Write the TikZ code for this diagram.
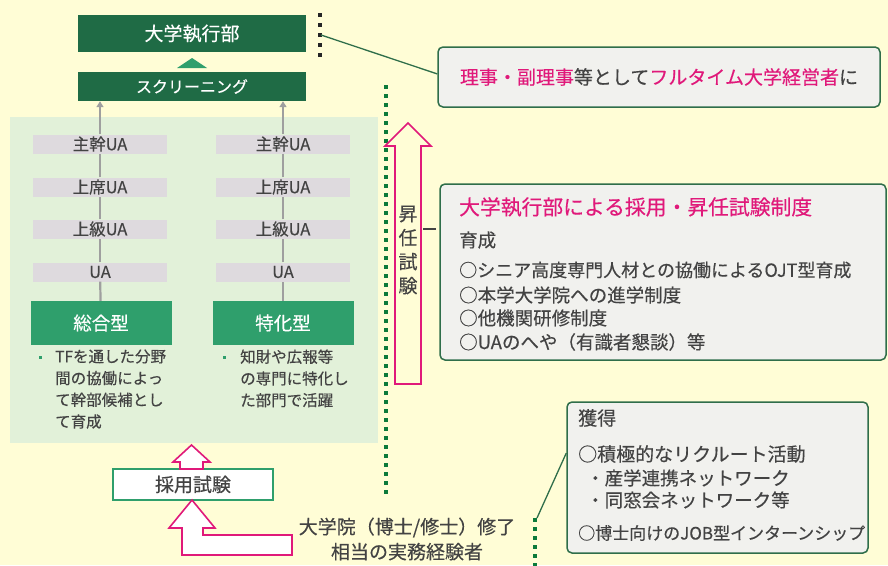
\documentclass[tikz,border=0pt]{standalone}
\usepackage{fontspec}
\setmainfont{Noto Sans CJK JP}[FakeBold=0.35]
\usetikzlibrary{arrows.meta,calc}
\definecolor{bgyellow}{HTML}{FFFDD6}
\definecolor{panelgreen}{HTML}{E2F1D9}
\definecolor{dkgreen}{HTML}{1F6B45}
\definecolor{midgreen}{HTML}{2F9F6C}
\definecolor{uagray}{HTML}{DEDADE}
\definecolor{pinkc}{HTML}{E0197A}
\definecolor{calfill}{HTML}{F1F1EE}
\definecolor{calgreen}{HTML}{2F6E4A}
\definecolor{txtgray}{HTML}{434343}
\definecolor{dotgreen}{HTML}{0B7A3B}
\newcommand{\myfs}[2]{\fontsize{#1}{#2}\selectfont}
\begin{document}
\begin{tikzpicture}[x=1pt,y=-1pt,
  darkbox/.style={fill=dkgreen, text=white, minimum width=228pt, inner sep=0pt},
  uabox/.style={fill=uagray, minimum width=134pt, minimum height=19pt, inner sep=0pt, text=txtgray, font=\myfs{16.5}{18}},
  typebox/.style={fill=midgreen, text=white, minimum width=141pt, minimum height=44pt, inner sep=0pt, font=\myfs{18.5}{20}},
  callout/.style={draw=calgreen, line width=1.5pt, rounded corners=5pt, fill=calfill, inner sep=0pt},
  pinkarrow/.style={draw=pinkc, line width=1.6pt, line join=miter},
  grayline/.style={draw=gray!75, line width=2.2pt},
  gdots/.style={draw=dotgreen, line width=3.5pt, dash pattern=on 3.5pt off 5.5pt},
  txt/.style={text=txtgray, inner sep=0pt},
]
\fill[bgyellow] (0,0) rectangle (888,565);
\useasboundingbox (0,0) rectangle (888,565);

% left panel
\node[fill=panelgreen, minimum width=368pt, minimum height=326pt, inner sep=0pt] (panel) at (194,280) {};

% top boxes
\node[darkbox, minimum height=37pt, font=\myfs{19}{21}] (exec) at (192,33.5) {大学執行部};
\node[darkbox, minimum height=29pt, font=\myfs{16}{18}] (screen) at (192,86.5) {スクリーニング};
\fill[midgreen] (192,58) -- (207,68) -- (177,68) -- cycle;

% black dots and callout
\foreach \yy in {15,25,35,45,55} \fill[black!85] (318.3,\yy-1.7) rectangle ++(3.5,3.5);
\coordinate (bd) at (321,35);
\node[callout, minimum width=442pt, minimum height=60pt] (rij) at (659,77)
  {\myfs{19}{21}\textcolor{pinkc}{理事・副理事}\textcolor{txtgray}{等として}\textcolor{pinkc}{フルタイム大学経営者}\textcolor{txtgray}{に}};
\draw[calgreen, line width=1.3pt] (bd) -- ($(rij.north west)!0.45!(rij.south west)$);

% UA columns
\node[uabox] (la1) at (100,144) {主幹UA};
\node[uabox] (la2) at (100,187) {上席UA};
\node[uabox] (la3) at (100,229) {上級UA};
\node[uabox] (la4) at (100,272) {UA};
\node[typebox] (sogo) at (101,323) {総合型};
\node[uabox] (ra1) at (283,144) {主幹UA};
\node[uabox] (ra2) at (283,187) {上席UA};
\node[uabox] (ra3) at (283,229) {上級UA};
\node[uabox] (ra4) at (283,272) {UA};
\node[typebox] (toku) at (283,323) {特化型};

\draw[grayline] (sogo) -- (la4);
\draw[grayline] (la4) -- (la3);
\draw[grayline] (la3) -- (la2);
\draw[grayline] (la2) -- (la1);
\draw[grayline, -{Triangle[width=7pt,length=6pt]}] (la1) -- (la1.north |- screen.south);
\draw[grayline] (toku) -- (ra4);
\draw[grayline] (ra4) -- (ra3);
\draw[grayline] (ra3) -- (ra2);
\draw[grayline] (ra2) -- (ra1);
\draw[grayline, -{Triangle[width=7pt,length=6pt]}] (ra1) -- (ra1.north |- screen.south);

% bullet texts
\fill[midgreen] (38.5,355.5) rectangle (41.5,358.5);
\fill[midgreen] (222.5,355.5) rectangle (225.5,358.5);
\node[txt, anchor=north west, align=left, font=\myfs{15.5}{21.7}] (sogotxt) at (55,349.3)
  {TFを通した分野\\間の協働によっ\\て幹部候補とし\\て育成};
\node[txt, anchor=north west, align=left, font=\myfs{15.5}{21.7}] (tokutxt) at (240,349.3)
  {知財や広報等\\の専門に特化し\\た部門で活躍};

% green dotted lines
\draw[gdots] (386,85) -- (386,498);
\draw[gdots] (535,518) -- (535,566);

% promotion arrow
\draw[pinkarrow] (408,123) -- (431,146) -- (421,146) -- (421,384) -- (395,384) -- (395,146) -- (385,146) -- cycle;
\node[txt, align=center, font=\myfs{19}{24}] (shonin) at (408,250) {昇\\任\\試\\験};
\draw[txtgray, line width=1.3pt] (423,229) -- (436,229);

% box 2
\node[callout, minimum width=446pt, minimum height=176pt] (ikusei) at (663,272) {};
\node[inner sep=0pt, anchor=west, text=pinkc, font=\myfs{20.8}{22}] (ik0) at (459,207) {大学執行部による採用・昇任試験制度};
\node[txt, anchor=west, font=\myfs{18.5}{20}] (ik1) at (459,240) {育成};
\node[txt, anchor=west, font=\myfs{18}{20}] (ik2) at (459,270) {○シニア高度専門人材との協働によるOJT型育成};
\node[txt, anchor=west, font=\myfs{18.5}{20}] (ik3) at (459,295) {○本学大学院への進学制度};
\node[txt, anchor=west, font=\myfs{18.5}{20}] (ik4) at (459,318) {○他機関研修制度};
\node[txt, anchor=west, font=\myfs{18.5}{20}] (ik5) at (459,342) {○UAのへや（有識者懇談）等};

% box 3
\node[callout, minimum width=301pt, minimum height=151pt] (kak) at (717.5,477.5) {};
\node[txt, anchor=west, font=\myfs{19}{20}] (kk0) at (578,418) {獲得};
\node[txt, anchor=west, font=\myfs{19}{20}] (kk1) at (578,454) {○積極的なリクルート活動};
\node[txt, anchor=west, font=\myfs{18.5}{20}] (kk2) at (586,478) {・産学連携ネットワーク};
\node[txt, anchor=west, font=\myfs{18.5}{20}] (kk3) at (586,500) {・同窓会ネットワーク等};
\node[txt, anchor=west, font=\myfs{17}{20}] (kk4) at (578,533) {○博士向けのJOB型インターンシップ};
\coordinate (gd) at (537,518);
\draw[calgreen, line width=1.3pt] (gd) -- ($(kak.north west)!0.34!(kak.south west)$);

% recruitment
\node[draw=midgreen, line width=1.5pt, fill=white, minimum width=160pt, minimum height=31pt, inner sep=0pt, text=txtgray, font=\myfs{19}{21}] (saiyo) at (193,484.5) {採用試験};
\draw[pinkarrow, fill=white] (191.5,445) -- (210,462) -- (203,462) -- (203,469) -- (180,469) -- (180,462) -- (173,462) -- cycle;
\draw[pinkarrow, fill=white] (192,500) -- (215,528) -- (203,528) -- (203,535) -- (292,535) -- (292,555) -- (182,555) -- (182,528) -- (169,528) -- cycle;
\node[txt, align=center, font=\myfs{19}{25}] (grad) at (407,539) {大学院（博士/修士）修了\\相当の実務経験者};
\end{tikzpicture}
\end{document}
